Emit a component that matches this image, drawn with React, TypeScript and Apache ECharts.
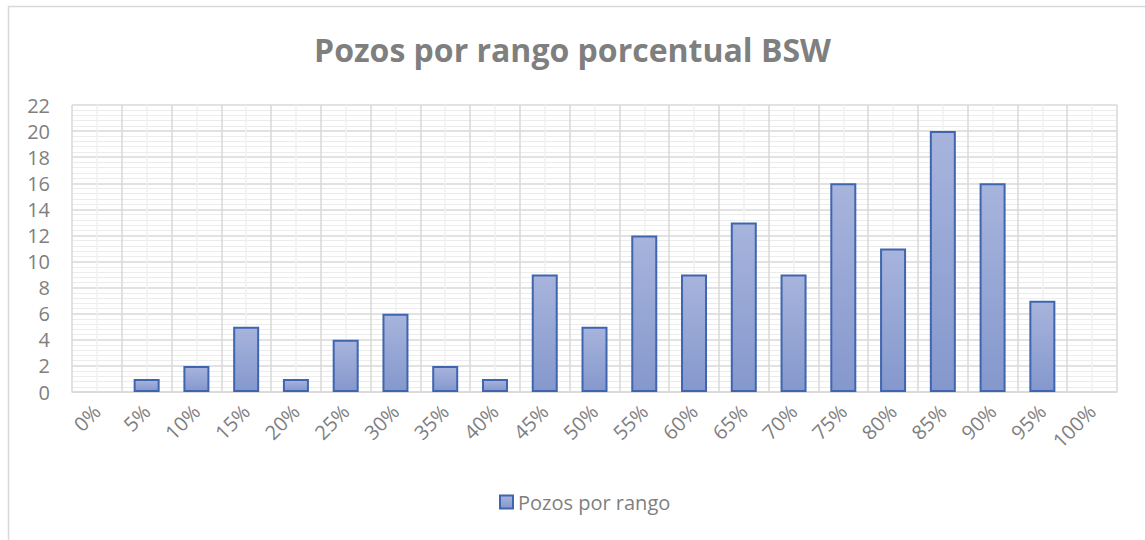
import React, { useEffect, useRef } from "react";
import * as echarts from "echarts";

const categories = ["0%", "5%", "10%", "15%", "20%", "25%", "30%", "35%", "40%", "45%", "50%", "55%", "60%", "65%", "70%", "75%", "80%", "85%", "90%", "95%", "100%"];
const pozosPorRango = [0, 1, 2, 5, 1, 4, 6, 2, 1, 9, 5, 12, 9, 13, 9, 16, 11, 20, 16, 7, 0];
const seriesName = "Pozos por rango";
const titleText = "Pozos por rango porcentual BSW";

const FONT = "'Open Sans', 'Noto Sans', sans-serif";

export default function App() {
  const ref = useRef<HTMLDivElement>(null);
  useEffect(() => {
    if (!ref.current) return;
    const chart = echarts.init(ref.current, null, { renderer: "svg" });
    const barData = pozosPorRango.map((v) =>
      v === 0 ? { value: v, itemStyle: { borderWidth: 0, opacity: 0 } } : v
    );
    chart.setOption({
      animation: false,
      backgroundColor: "#ffffff",
      title: {
        text: titleText,
        left: "center",
        top: 28,
        textStyle: { fontFamily: FONT, fontSize: 32, fontWeight: "bold", color: "#7f7f7f" },
      },
      graphic: [
        {
          type: "rect",
          shape: { x: 8.5, y: 6.5, width: 1200, height: 600 },
          style: { fill: "none", stroke: "#d9d9d9", lineWidth: 1.5 },
          silent: true,
        },
      ],
      legend: {
        bottom: 23,
        left: 494,
        itemWidth: 13,
        itemHeight: 13,
        itemGap: 6,
        textStyle: { fontFamily: FONT, fontSize: 20, color: "#7f7f7f" },
        data: [{ name: seriesName, icon: "rect" }],
      },
      grid: { left: 72, right: 28, top: 105, bottom: 148, containLabel: false },
      xAxis: [
        {
          type: "category",
          data: categories,
          axisLine: { show: true, lineStyle: { color: "#d9d9d9", width: 1.5 } },
          axisTick: { show: false },
          splitLine: { show: false },
          axisLabel: {
            rotate: 45,
            interval: 0,
            margin: 16,
            fontFamily: FONT,
            fontSize: 20,
            color: "#7f7f7f",
          },
        },
        {
          type: "value",
          min: 0,
          max: 21,
          interval: 1,
          show: true,
          position: "bottom",
          axisLine: { show: false },
          axisTick: { show: false },
          axisLabel: { show: false },
          splitLine: { show: true, lineStyle: { color: "#d9d9d9", width: 1.5 } },
          minorTick: { show: false, splitNumber: 2 },
          minorSplitLine: { show: true, lineStyle: { color: "#f0f0f0", width: 1.5 } },
        },
      ],
      yAxis: {
        type: "value",
        min: 0,
        max: 22,
        interval: 2,
        axisLine: { show: false },
        axisTick: { show: false },
        axisLabel: { margin: 22, fontFamily: FONT, fontSize: 20, color: "#7f7f7f" },
        splitLine: { show: true, lineStyle: { color: "#d9d9d9", width: 1.5 } },
        minorTick: { show: false, splitNumber: 5 },
        minorSplitLine: { show: true, lineStyle: { color: "#ececec", width: 1 } },
      },
      series: [
        {
          name: seriesName,
          type: "bar",
          xAxisIndex: 0,
          data: barData,
          barWidth: 26,
          itemStyle: {
            color: new echarts.graphic.LinearGradient(0, 0, 0, 1, [
              { offset: 0, color: "#a7b4dc" },
              { offset: 1, color: "#8598cd" },
            ]),
            borderColor: "#3f65b0",
            borderWidth: 2,
          },
        },
      ],
    });
    return () => chart.dispose();
  }, []);
  return (
    <div
      ref={ref}
      style={{ position: "absolute", left: 0, top: 0, width: 1145, height: 540 }}
    />
  );
}
